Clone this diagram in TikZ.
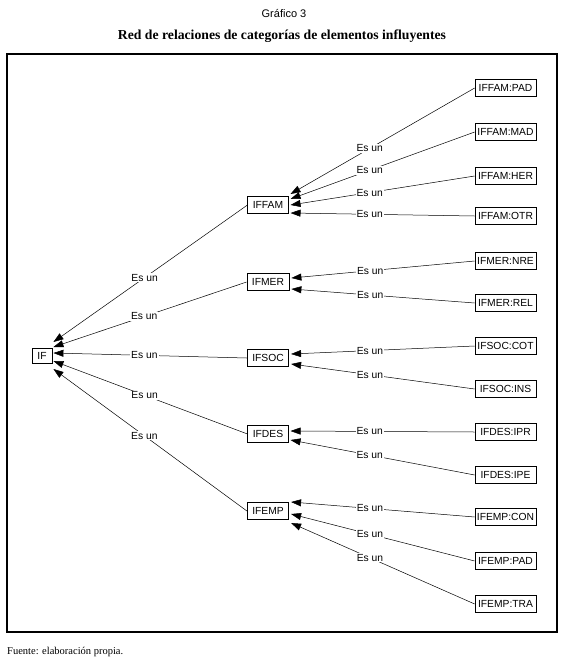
\documentclass[tikz,border=0pt]{standalone}
\usepackage{fontspec}
\setmainfont{Liberation Serif}
\setsansfont{Liberation Sans}
\usetikzlibrary{arrows.meta}
\newcommand{\redFont}{\sffamily\fontsize{10.3}{12}\selectfont}
\newcommand{\subWidth}{61pt}

\begin{document}
\begin{tikzpicture}[x=1pt, y=-1pt, every node/.style={font=\redFont},
		catBox/.style={draw, line width=0.7pt, inner xsep=5pt, inner ysep=0pt, minimum height=17pt},
		subBox/.style={catBox, inner xsep=1.5pt, minimum width=\subWidth},
		esUn/.style={fill=white, inner sep=1pt},
		isA/.style={line width=0.5pt, -{Triangle[length=10pt, width=7pt]}}]
	\useasboundingbox (0,0) rectangle (565,662);
	% heading and source
	\node[font=\sffamily\fontsize{11}{13}\selectfont] (grafico) at (284,14) {Gráfico 3};
	\node[font=\rmfamily\bfseries\fontsize{13.7}{16}\selectfont] (titulo) at (282,36) {Red de relaciones de categorías de elementos influyentes};
	\node[font=\rmfamily\fontsize{10.5}{12}\selectfont, anchor=west, inner sep=0pt] (fuente) at (7,652) {Fuente: elaboración propia.};
	\draw[line width=2.4pt] (7,54) rectangle (557,632);
	% root
	\node[catBox, minimum height=15pt, inner xsep=5.5pt] (if) at (42,356) {IF};
	% categories
	\node[catBox] (fam) at (268,205) {IFFAM};
	\node[catBox] (mer) at (268,282) {IFMER};
	\node[catBox] (soc) at (268,358) {IFSOC};
	\node[catBox] (des) at (268,434) {IFDES};
	\node[catBox] (emp) at (268,511) {IFEMP};
	% elements
	\node[subBox] (fampad) at (505.5,88) {IFFAM:PAD};
	\node[subBox] (fammad) at (505.5,132) {IFFAM:MAD};
	\node[subBox] (famher) at (505.5,176) {IFFAM:HER};
	\node[subBox] (famotr) at (505.5,216) {IFFAM:OTR};
	\node[subBox] (mernre) at (505.5,261) {IFMER:NRE};
	\node[subBox] (merrel) at (505.5,303) {IFMER:REL};
	\node[subBox] (soccot) at (505.5,346) {IFSOC:COT};
	\node[subBox] (socins) at (505.5,389) {IFSOC:INS};
	\node[subBox] (desipr) at (505.5,432) {IFDES:IPR};
	\node[subBox] (desipe) at (505.5,475) {IFDES:IPE};
	\node[subBox] (empcon) at (505.5,517) {IFEMP:CON};
	\node[subBox] (emppad) at (505.5,561) {IFEMP:PAD};
	\node[subBox] (emptra) at (505.5,604) {IFEMP:TRA};
	% categories -> IF
	\draw[isA] (fam.west) -- node[esUn, pos=.53]{Es un} ([xshift=1pt, yshift=14pt]if.east);
	\draw[isA] (mer.west) -- node[esUn, pos=.53]{Es un} ([xshift=1pt, yshift=9pt]if.east);
	\draw[isA] (soc.west) -- node[esUn, pos=.53]{Es un} ([xshift=1pt, yshift=3pt]if.east);
	\draw[isA] (des.west) -- node[esUn, pos=.53]{Es un} ([xshift=1pt, yshift=-5pt]if.east);
	\draw[isA] (emp.west) -- node[esUn, pos=.53]{Es un} ([xshift=1pt, yshift=-13pt]if.east);
	% elements -> categories
	\draw[isA] (fampad.west) -- node[esUn, pos=.57]{Es un} ([xshift=2pt, yshift=11pt]fam.east);
	\draw[isA] (fammad.west) -- node[esUn, pos=.57]{Es un} ([xshift=2pt, yshift=6pt]fam.east);
	\draw[isA] (famher.west) -- node[esUn, pos=.57]{Es un} ([xshift=2pt, yshift=0pt]fam.east);
	\draw[isA] (famotr.west) -- node[esUn, pos=.57]{Es un} ([xshift=2pt, yshift=-8pt]fam.east);
	\draw[isA] (mernre.west) -- node[esUn, pos=.57]{Es un} ([xshift=2pt, yshift=4pt]mer.east);
	\draw[isA] (merrel.west) -- node[esUn, pos=.57]{Es un} ([xshift=2pt, yshift=-7pt]mer.east);
	\draw[isA] (soccot.west) -- node[esUn, pos=.57]{Es un} ([xshift=2pt, yshift=4pt]soc.east);
	\draw[isA] (socins.west) -- node[esUn, pos=.57]{Es un} ([xshift=2pt, yshift=-6pt]soc.east);
	\draw[isA] (desipr.west) -- node[esUn, pos=.57]{Es un} ([xshift=2pt, yshift=3pt]des.east);
	\draw[isA] (desipe.west) -- node[esUn, pos=.57]{Es un} ([xshift=2pt, yshift=-6pt]des.east);
	\draw[isA] (empcon.west) -- node[esUn, pos=.57]{Es un} ([xshift=2pt, yshift=9pt]emp.east);
	\draw[isA] (emppad.west) -- node[esUn, pos=.57]{Es un} ([xshift=2pt, yshift=-3pt]emp.east);
	\draw[isA] (emptra.west) -- node[esUn, pos=.57]{Es un} ([xshift=2pt, yshift=-12pt]emp.east);
\end{tikzpicture}
\end{document}
